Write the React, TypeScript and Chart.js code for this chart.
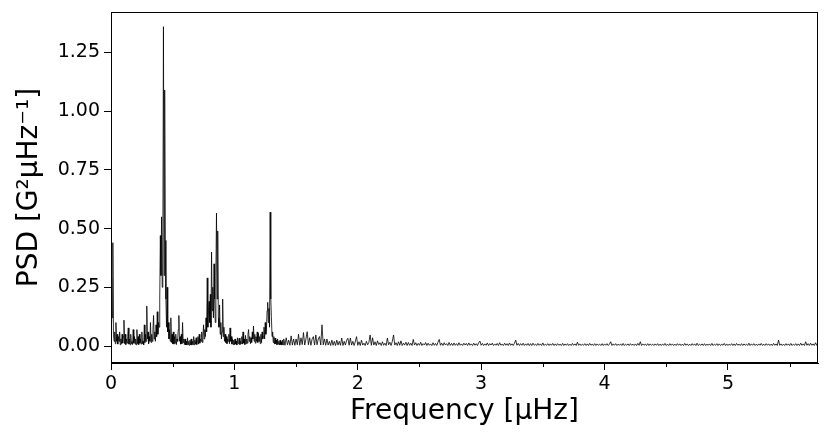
import React, { useEffect, useRef } from "react";
import { Chart, registerables } from "chart.js";

Chart.register(...registerables);

// Segment A: 0.000 .. 1.395 µHz, step 0.005
const segAStart = 0;
const segAStep = 0.005;
const segAPsd = [
  0.10, 0.29, 0.12, 0.44, 0.05, 0.02, 0.06, 0.01, 0.10, 0.02, 0.05, 0.008, 0.04, 0.02, 0.06, 0.005, 0.03, 0.01, 0.05, 0.012,
  0.04, 0.11, 0.01, 0.05, 0.006, 0.03, 0.012, 0.04, 0.077, 0.008, 0.03, 0.005, 0.05, 0.01, 0.02, 0.006, 0.07, 0.012, 0.04, 0.008,
  0.03, 0.005, 0.07, 0.01, 0.04, 0.006, 0.05, 0.012, 0.03, 0.008, 0.06, 0.01, 0.02, 0.005, 0.09, 0.015, 0.05, 0.02, 0.17, 0.03,
  0.06, 0.01, 0.04, 0.02, 0.10, 0.015, 0.05, 0.02, 0.07, 0.13, 0.03, 0.06, 0.02, 0.09, 0.04, 0.146, 0.05, 0.10, 0.08, 0.20,
  0.47, 0.30, 0.55, 0.25, 0.40, 1.36, 0.30, 1.09, 0.45, 0.20, 0.08, 0.25, 0.06, 0.10, 0.03, 0.07, 0.02, 0.12, 0.015, 0.05,
  0.01, 0.06, 0.008, 0.04, 0.012, 0.05, 0.006, 0.03, 0.02, 0.07, 0.13, 0.02, 0.04, 0.008, 0.05, 0.01, 0.10, 0.015, 0.03, 0.006,
  0.03, 0.005, 0.02, 0.004, 0.035, 0.006, 0.02, 0.003, 0.025, 0.005, 0.03, 0.004, 0.02, 0.006, 0.04, 0.005, 0.025, 0.008, 0.035, 0.006,
  0.02, 0.04, 0.008, 0.05, 0.012, 0.03, 0.02, 0.06, 0.015, 0.04, 0.09, 0.03, 0.07, 0.04, 0.12, 0.06, 0.29, 0.08, 0.15, 0.19,
  0.10, 0.22, 0.08, 0.40, 0.15, 0.25, 0.12, 0.35, 0.20, 0.10, 0.30, 0.566, 0.20, 0.49, 0.12, 0.08, 0.175, 0.05, 0.10, 0.03,
  0.06, 0.20, 0.04, 0.08, 0.02, 0.05, 0.015, 0.04, 0.01, 0.03, 0.02, 0.05, 0.01, 0.077, 0.02, 0.04, 0.008, 0.03, 0.006, 0.025,
  0.005, 0.03, 0.008, 0.02, 0.004, 0.035, 0.01, 0.025, 0.034, 0.006, 0.02, 0.01, 0.04, 0.008, 0.06, 0.012, 0.03, 0.006, 0.045, 0.01,
  0.03, 0.012, 0.05, 0.07, 0.02, 0.04, 0.01, 0.035, 0.015, 0.06, 0.03, 0.085, 0.02, 0.05, 0.012, 0.04, 0.02, 0.06, 0.015, 0.054,
  0.02, 0.04, 0.01, 0.05, 0.015, 0.06, 0.03, 0.04, 0.08, 0.03, 0.10, 0.05, 0.07, 0.15, 0.186, 0.10, 0.16, 0.08, 0.57, 0.20,
  0.125, 0.04, 0.06, 0.015, 0.04, 0.008, 0.034, 0.01, 0.025, 0.005, 0.03, 0.008, 0.02, 0.004, 0.025, 0.006, 0.018, 0.004, 0.025, 0.005,
];

// Segment B: 1.40 .. 1.99 µHz, step 0.01
const segBStart = 1.4;
const segBStep = 0.01;
const segBPsd = [
  0.03, 0.003, 0.035, 0.005, 0.025, 0.003, 0.043, 0.004, 0.03, 0.003,
  0.03, 0.005, 0.05, 0.003, 0.035, 0.006, 0.057, 0.004, 0.03, 0.061,
  0.005, 0.035, 0.003, 0.03, 0.04, 0.004, 0.047, 0.005, 0.03, 0.04,
  0.004, 0.09, 0.005, 0.03, 0.003, 0.03, 0.004, 0.02, 0.002, 0.025,
  0.003, 0.02, 0.002, 0.025, 0.004, 0.02, 0.003, 0.034, 0.002, 0.02,
  0.004, 0.025, 0.033, 0.003, 0.034, 0.004, 0.02, 0.002, 0.018, 0.04,
];

// Segment C: 2.00 .. 5.73 µHz, step 0.01
const segCStart = 2;
const segCStep = 0.01;
const segCPsd = [
  0.003, 0.018, 0.002, 0.025, 0.004, 0.012, 0.002, 0.02, 0.005, 0.015, 0.047, 0.003, 0.035, 0.004, 0.018, 0.002, 0.022, 0.006, 0.014, 0.002,
  0.018, 0.003, 0.012, 0.002, 0.034, 0.005, 0.016, 0.002, 0.02, 0.047, 0.004, 0.014, 0.002, 0.018, 0.003, 0.022, 0.002, 0.012, 0.004, 0.016,
  0.002, 0.015, 0.003, 0.012, 0.002, 0.028, 0.004, 0.014, 0.002, 0.011, 0.003, 0.016, 0.002, 0.01, 0.004, 0.015, 0.002, 0.012, 0.003, 0.009,
  0.002, 0.014, 0.003, 0.011, 0.002, 0.016, 0.028, 0.003, 0.012, 0.002, 0.014, 0.004, 0.01, 0.002, 0.015, 0.003, 0.011, 0.002, 0.013, 0.003,
  0.01, 0.002, 0.014, 0.003, 0.009, 0.002, 0.012, 0.004, 0.011, 0.002, 0.013, 0.003, 0.009, 0.002, 0.012, 0.003, 0.01, 0.002, 0.014, 0.021,
  0.003, 0.011, 0.002, 0.009, 0.003, 0.013, 0.002, 0.01, 0.004, 0.012, 0.002, 0.009, 0.003, 0.011, 0.002, 0.014, 0.003, 0.008, 0.002, 0.012,
  0.003, 0.01, 0.002, 0.013, 0.003, 0.009, 0.002, 0.012, 0.025, 0.003, 0.011, 0.002, 0.01, 0.003, 0.012, 0.002, 0.009, 0.003, 0.011, 0.002,
  0.01, 0.002, 0.012, 0.003, 0.008, 0.002, 0.011, 0.003, 0.009, 0.002, 0.013, 0.002, 0.008, 0.003, 0.01, 0.002, 0.009, 0.003, 0.011, 0.002,
  0.009, 0.002, 0.01, 0.003, 0.008, 0.002, 0.011, 0.002, 0.009, 0.003, 0.01, 0.002, 0.008, 0.002, 0.011, 0.003, 0.009, 0.002, 0.016, 0.003,
  0.009, 0.002, 0.008, 0.003, 0.01, 0.002, 0.009, 0.002, 0.011, 0.003, 0.008, 0.002, 0.01, 0.002, 0.009, 0.003, 0.008, 0.002, 0.01, 0.002,
  0.009, 0.003, 0.01, 0.002, 0.008, 0.018, 0.002, 0.009, 0.003, 0.01, 0.002, 0.008, 0.003, 0.009, 0.002, 0.011, 0.002, 0.008, 0.003, 0.009,
  0.002, 0.01, 0.003, 0.008, 0.002, 0.009, 0.002, 0.011, 0.003, 0.018, 0.002, 0.009, 0.003, 0.008, 0.002, 0.01, 0.002, 0.009, 0.003, 0.008,
  0.002, 0.009, 0.003, 0.01, 0.002, 0.008, 0.002, 0.009, 0.003, 0.011, 0.002, 0.008, 0.002, 0.01, 0.003, 0.009, 0.002, 0.008, 0.002, 0.01,
  0.003, 0.009, 0.002, 0.008, 0.002, 0.011, 0.003, 0.009, 0.002, 0.008, 0.002, 0.01, 0.003, 0.009, 0.002, 0.012, 0.002, 0.008, 0.003, 0.009,
  0.002, 0.01, 0.002, 0.008, 0.003, 0.009, 0.002, 0.011, 0.002, 0.008, 0.003, 0.01, 0.002, 0.009, 0.002, 0.008, 0.003, 0.011, 0.002, 0.009,
  0.002, 0.008, 0.003, 0.01, 0.002, 0.009, 0.002, 0.011, 0.003, 0.008, 0.002, 0.01, 0.002, 0.009, 0.003, 0.008, 0.002, 0.012, 0.002, 0.009,
  0.003, 0.01, 0.002, 0.008, 0.002, 0.009, 0.003, 0.011, 0.002, 0.008, 0.002, 0.01, 0.003, 0.009, 0.002, 0.008, 0.002, 0.011, 0.003, 0.009,
  0.002, 0.025, 0.003, 0.009, 0.002, 0.008, 0.002, 0.01, 0.003, 0.009, 0.002, 0.011, 0.002, 0.008, 0.003, 0.01, 0.002, 0.009, 0.002, 0.012,
  0.003, 0.009, 0.002, 0.018, 0.003, 0.01, 0.002, 0.012, 0.003, 0.009, 0.002, 0.014, 0.003, 0.011,
];

const xTickValues = [0, 1, 2, 3, 4, 5];
const xMinorTickValues = [0.5, 1.5, 2.5, 3.5, 4.5, 5.5];
const yTickValues = [0, 0.25, 0.5, 0.75, 1.0, 1.25];
const xRange = [0, 5.73];
const yRange = [-0.0724, 1.4225];

const FONT = "'DejaVu Sans', sans-serif";

export default function App() {
  const ref = useRef<HTMLCanvasElement | null>(null);

  useEffect(() => {
    if (!ref.current) return;
    const seg = (start: number, step: number, vals: number[]) =>
      vals.map((y, i) => ({ x: +(start + i * step).toFixed(3), y }));
    const points = [
      ...seg(segAStart, segAStep, segAPsd),
      ...seg(segBStart, segBStep, segBPsd),
      ...seg(segCStart, segCStep, segCPsd),
    ];

    const framePlugin = {
      id: "frame",
      afterDraw(chart: any) {
        const { ctx, chartArea } = chart;
        const xs = chart.scales.x;
        ctx.save();
        ctx.strokeStyle = "#000";
        ctx.lineWidth = 1;
        ctx.strokeRect(
          Math.round(chartArea.left) + 0.5,
          Math.round(chartArea.top) + 0.5,
          Math.round(chartArea.right - chartArea.left) - 1,
          Math.round(chartArea.bottom - chartArea.top) - 1
        );
        ctx.beginPath();
        for (const v of xMinorTickValues) {
          const px = Math.round(xs.getPixelForValue(v)) + 0.5;
          ctx.moveTo(px, chartArea.bottom);
          ctx.lineTo(px, chartArea.bottom + 4);
        }
        ctx.stroke();
        ctx.restore();
      },
    };

    const chart = new Chart(ref.current, {
      type: "line",
      data: {
        datasets: [
          {
            data: points,
            borderColor: "rgba(0,0,0,0.8)",
            borderWidth: 1,
            pointRadius: 0,
            fill: false,
            tension: 0,
          },
        ],
      },
      options: {
        responsive: false,
        animation: false,
        layout: { padding: { left: 0, right: 12, top: 12, bottom: 0 } },
        plugins: { legend: { display: false }, tooltip: { enabled: false } },
        scales: {
          x: {
            type: "linear",
            min: xRange[0],
            max: xRange[1],
            afterBuildTicks: (s: any) => {
              s.ticks = xTickValues.map((v) => ({ value: v }));
            },
            afterFit: (s: any) => {
              s.height = 79;
              s.paddingLeft = 0;
              s.paddingRight = 0;
            },
            grid: {
              drawOnChartArea: false,
              drawTicks: true,
              tickLength: 7,
              tickColor: "#000",
            },
            border: { display: true, color: "#000" },
            ticks: {
              color: "#000",
              font: { family: FONT, size: 19 },
              padding: 3,
              maxRotation: 0,
              callback: (v: any) => String(v),
            },
            title: {
              display: true,
              text: "Frequency [μHz]",
              color: "#000",
              font: { family: FONT, size: 28 },
              padding: { top: 0, bottom: 13 },
            },
          },
          y: {
            type: "linear",
            min: yRange[0],
            max: yRange[1],
            afterBuildTicks: (s: any) => {
              s.ticks = yTickValues.map((v) => ({ value: v }));
            },
            afterFit: (s: any) => {
              s.width = 111;
              s.paddingTop = 0;
              s.paddingBottom = 0;
            },
            grid: {
              drawOnChartArea: false,
              drawTicks: true,
              tickLength: 7,
              tickColor: "#000",
            },
            border: { display: true, color: "#000" },
            ticks: {
              color: "#000",
              font: { family: FONT, size: 19 },
              padding: 4,
              callback: (v: any) => Number(v).toFixed(2),
            },
            title: {
              display: true,
              text: "PSD [G²μHz⁻¹]",
              color: "#000",
              font: { family: FONT, size: 28 },
              padding: { top: 13, bottom: 0 },
            },
          },
        },
      },
      plugins: [framePlugin],
    });
    return () => chart.destroy();
  }, []);

  return (
    <div style={{ position: "absolute", left: 0, top: 0, width: 830, height: 442, background: "#fff" }}>
      <canvas ref={ref} width={830} height={442} />
    </div>
  );
}
